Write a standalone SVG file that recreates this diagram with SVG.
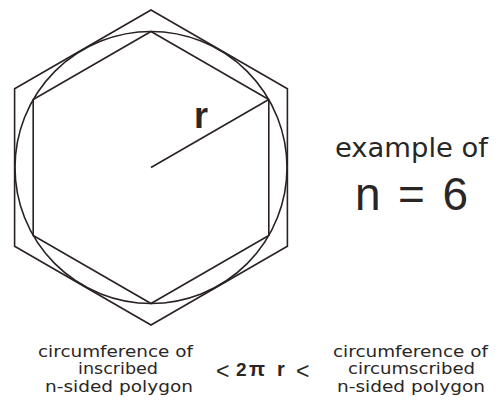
<svg xmlns="http://www.w3.org/2000/svg" width="499" height="400" viewBox="0 0 499 400">
<style>
.ln{fill:none;stroke:#2a2222;stroke-width:1.6;stroke-linejoin:miter}
.t{font-family:"Liberation Sans","DejaVu Sans",sans-serif;fill:#2a2626}
.s{font-family:"DejaVu Sans","Liberation Sans",sans-serif;font-size:15.5px}
</style>
<rect width="499" height="400" fill="#fff"/>
<g id="figure">
<polygon class="ln" points="151,10 287.4,88.75 287.4,246.25 151,325 14.6,246.25 14.6,88.75"/>
<circle class="ln" cx="151" cy="167.5" r="136"/>
<polygon class="ln" points="151,31.5 268.8,99.5 268.8,235.5 151,303.5 33.2,235.5 33.2,99.5"/>
<line class="ln" x1="151" y1="167.5" x2="268.8" y2="99.5"/>
<text class="t" x="194" y="128" font-size="36" font-weight="bold">r</text>
</g>
<g id="caption">
<text class="t" x="335" y="157" font-size="26" style="font-family:'DejaVu Sans','Liberation Sans',sans-serif" textLength="153" lengthAdjust="spacingAndGlyphs">example of</text>
<text class="t" x="355" y="210" font-size="46" textLength="113" lengthAdjust="spacing">n = 6</text>
</g>
<g id="formula">
<text class="t s" x="38" y="356.5" textLength="155" lengthAdjust="spacingAndGlyphs">circumference of</text>
<text class="t s" x="78" y="374" textLength="80" lengthAdjust="spacingAndGlyphs">inscribed</text>
<text class="t s" x="45" y="391.5" textLength="148" lengthAdjust="spacingAndGlyphs">n-sided polygon</text>
<text class="t" font-size="23"><tspan x="216" y="378.5">&lt;</tspan><tspan x="236" y="376" font-weight="bold" font-size="19">2</tspan><tspan x="249" y="376" font-weight="bold" font-size="21">π</tspan><tspan x="277" y="376" font-weight="bold" font-size="20">r</tspan><tspan x="296" y="378.5">&lt;</tspan></text>
<text class="t s" x="333" y="356.5" textLength="155" lengthAdjust="spacingAndGlyphs">circumference of</text>
<text class="t s" x="348" y="374" textLength="127" lengthAdjust="spacingAndGlyphs">circumscribed</text>
<text class="t s" x="337" y="391.5" textLength="148" lengthAdjust="spacingAndGlyphs">n-sided polygon</text>
</g>
</svg>
